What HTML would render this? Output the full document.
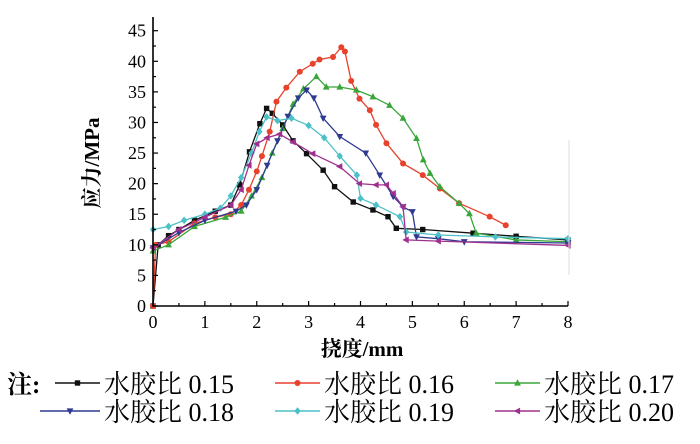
<!DOCTYPE html>
<html><head><meta charset="utf-8"><style>
body{margin:0;background:#fff;width:700px;height:439px;overflow:hidden}
svg text{font-family:"Liberation Serif","Noto Serif CJK SC",serif;fill:#000}
</style></head><body>
<svg id="chart" width="700" height="439" xmlns="http://www.w3.org/2000/svg">
<g id="plot"></g>
<g id="axes"></g>
<text transform="translate(99,163) rotate(-90)" text-anchor="middle" font-size="21" font-weight="bold">应力/MPa</text>
<text x="362" y="356" text-anchor="middle" font-size="21" font-weight="bold">挠度/mm</text>
<g id="legend"></g>
</svg>
<script>
const xTicks=[0,1,2,3,4,5,6,7,8];
const yTicks=[0,5,10,15,20,25,30,35,40,45];
const seriesNames=["水胶比 0.15","水胶比 0.16","水胶比 0.17","水胶比 0.18","水胶比 0.19","水胶比 0.20"];
const s015x=[0,0.1,0.3,0.5,0.8,1.2,1.5,1.67,1.86,2.06,2.19,2.3,2.5,2.7,2.96,3.28,3.5,3.86,4.24,4.53,4.69,5.2,6.17,7,8];
const s015y=[0,10,11.5,12.5,14,15.5,16.5,19.8,25.2,29.8,32.3,31.5,29.6,27,24.9,22.2,19.5,17,15.7,14.6,12.7,12.5,11.9,11.4,10.8];
const s016x=[0,0.05,0.3,0.8,1.2,1.5,1.7,1.85,2.0,2.1,2.25,2.38,2.57,2.83,3.08,3.21,3.47,3.63,3.7,3.82,3.98,4.18,4.3,4.5,4.82,5.2,5.53,5.9,6.49,6.8];
const s016y=[0,10,10.5,13.5,14.5,15,16.5,19,22,24.5,28.5,33.4,35.7,38.3,39.6,40.3,40.7,42.3,41.6,36.8,33.9,32,29.6,26.6,23.3,21.4,19.2,16.8,14.6,13.2];
const s017x=[0,0.3,0.8,1.4,1.7,1.9,2.1,2.3,2.5,2.7,2.9,3.15,3.34,3.6,3.92,4.24,4.56,4.82,5.08,5.21,5.34,5.53,5.9,6.1,6.23,7,8];
const s017y=[9,10,13,14.5,15.5,18,21,25,29,33,35.5,37.5,35.8,35.8,35.3,34.2,32.8,30.7,27.4,23.9,21.7,19.5,16.8,15.1,11.9,10.8,10.5];
const s018x=[0,0.5,1.0,1.6,1.8,2.0,2.2,2.4,2.6,2.8,2.96,3.1,3.28,3.6,4.1,4.37,4.63,4.82,5.0,5.08,5.5,6,8];
const s018y=[9.5,12,14,15.5,16.5,19,23,27,31,34,35.3,34,30.7,27.7,25,21.4,17.9,16.2,15.4,11.3,11,10.5,10.3];
const s019x=[0,0.3,0.6,1.0,1.3,1.5,1.7,1.9,2.05,2.19,2.4,2.67,3.0,3.3,3.6,3.93,4.0,4.3,4.76,4.88,5.5,6.6,8];
const s019y=[12.5,13,14,15,16,18,21,25,28.5,30.9,30.3,30.7,29.5,27.5,24.5,21.4,17.6,16.5,14.6,12.1,11.6,11.3,11];
const s020x=[0,0.5,1.0,1.5,1.7,1.85,2.0,2.2,2.44,2.7,3.08,3.6,3.98,4.3,4.5,4.63,4.82,4.88,5.5,8];
const s020y=[9.5,12.5,14.5,16.5,19,23,26.5,27.5,28.1,26.8,24.9,22.8,20,19.8,19.8,18.4,16.2,10.8,10.6,9.9];
const colors=["#111","#e8412c","#3aa53a","#2e3a8f","#4cc0c8","#a0308f"];
const markers=["square","circle","up","down","diamond","left"];
const X0=153,X1=568,Y0=306,Y45=30.7;
const xs=v=>X0+(X1-X0)*v/8;
const ys=v=>Y0-(Y0-Y45)*v/45;
const NS="http://www.w3.org/2000/svg";
function mk(tag,attrs,parent){const e=document.createElementNS(NS,tag);for(const k in attrs)e.setAttribute(k,attrs[k]);parent.appendChild(e);return e;}
function marker(type,x,y,c,parent){
  let e;
  if(type==="square")e=mk("rect",{x:x-2.7,y:y-2.7,width:5.4,height:5.4,fill:c},parent);
  else if(type==="circle")e=mk("circle",{cx:x,cy:y,r:3,fill:c},parent);
  else{let p;
    if(type==="up")p=[[x,y-3.8],[x-3.4,y+2.6],[x+3.4,y+2.6]];
    else if(type==="down")p=[[x,y+3.8],[x-3.4,y-2.6],[x+3.4,y-2.6]];
    else if(type==="left")p=[[x-3.8,y],[x+2.6,y-3.4],[x+2.6,y+3.4]];
    else p=[[x,y-3.8],[x+3.2,y],[x,y+3.8],[x-3.2,y]];
    e=mk("polygon",{points:p.map(q=>q.join(",")).join(" "),fill:c},parent);}
  return e;
}
const axes=document.getElementById("axes");
const plot=document.getElementById("plot");
const ax=mk("path",{d:`M${X0} 17V${Y0}H${X1}`,stroke:"#000","stroke-width":1.6,fill:"none"},axes);


mk("line",{x1:X1+1,y1:140,x2:X1+1,y2:275,stroke:"#ddd","stroke-width":1},axes);
for(let i=0;i<=16;i++){const v=i/2;mk("line",{x1:xs(v),x2:xs(v),y1:Y0,y2:Y0-(i%2?3:5),stroke:"#000","stroke-width":1.2},axes);}
for(let i=0;i<=18;i++){const v=i*2.5;mk("line",{x1:X0,x2:X0+(i%2?3:5),y1:ys(v),y2:ys(v),stroke:"#000","stroke-width":1.2},axes);}
xTicks.forEach(v=>{const t=mk("text",{x:xs(v),y:Y0+22,"text-anchor":"middle","font-size":18},axes);t.textContent=v;

});
yTicks.forEach(v=>{const t=mk("text",{x:X0-7,y:ys(v)+6,"text-anchor":"end","font-size":18},axes);t.textContent=v;

});
const allX=[s015x,s016x,s017x,s018x,s019x,s020x],allY=[s015y,s016y,s017y,s018y,s019y,s020y];
allX.forEach((X,i)=>{
  const g=mk("g",{},plot);
  
  
  mk("polyline",{points:X.map((x,j)=>xs(x)+","+ys(allY[i][j])).join(" "),fill:"none",stroke:colors[i],"stroke-width":1.3},g);
  X.forEach((x,j)=>{const m=marker(markers[i],xs(x),ys(allY[i][j]),colors[i],g);
  
  });
});
const leg=document.getElementById("legend");
const note=mk("text",{x:7,y:393,"font-size":25,"font-weight":"bold"},leg);note.textContent="注:";


const lx=[[55,100],[275,320],[495,540]],tx=[104,324,544],ry=[383,411];
seriesNames.forEach((n,i)=>{
  const r=Math.floor(i/3),c=i%3;const g=mk("g",{},leg);
  
  
  const a=(r===1&&c===0)?40:lx[c][0];
  mk("line",{x1:a,x2:lx[c][1],y1:ry[r],y2:ry[r],stroke:colors[i],"stroke-width":1.5},g);
  marker(markers[i],(a+lx[c][1])/2,ry[r],colors[i],g);
  const t=mk("text",{x:tx[c],y:ry[r]+10,"font-size":26},g);t.textContent=n;
});
</script>
</body></html>
